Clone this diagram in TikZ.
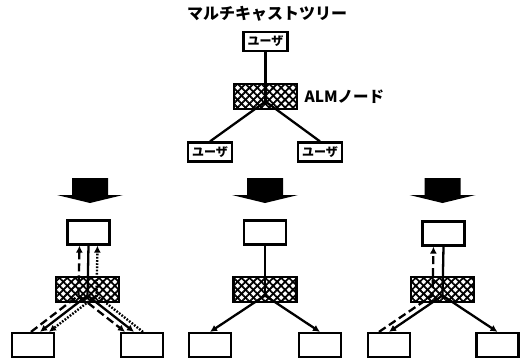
\documentclass[tikz,border=0pt]{standalone}
\usepackage{fontspec}
\setmainfont{Noto Sans CJK JP}
\usetikzlibrary{calc,patterns.meta,arrows.meta}
\begin{document}
\begin{tikzpicture}[x=1pt,y=-1pt,
  userbox/.style={draw, line width=2.2pt, fill=white, inner sep=0pt, minimum width=44pt, minimum height=19pt, font=\bfseries\fontsize{12}{12}\selectfont},
  pbox/.style={draw, line width=2.2pt, fill=white, inner sep=0pt, minimum width=42pt, minimum height=24pt},
  almbox/.style={draw, line width=2.5pt, inner sep=0pt, minimum width=63pt, minimum height=25pt,
     pattern={Lines[angle=45,distance=5.6pt,line width=1.8pt]},
     postaction={pattern={Lines[angle=-45,distance=5.6pt,line width=1.8pt]}}},
  conn/.style={line width=2.3pt},
  arrowend/.style={-{Latex[length=7pt,width=7pt]}},
  dashline/.style={line width=2.3pt, dash pattern=on 8pt off 4pt},
  dotline/.style={line width=2.4pt, dash pattern=on 1.7pt off 1.5pt},
  bigarr/.pic={\fill (-18,0) -- (18,0) -- (18,17) -- (33,17) -- (0,25) -- (-33,17) -- (-18,17) -- cycle;}]
\useasboundingbox (0,0) rectangle (524,361);

% ---------- top tree ----------
\node[font=\bfseries\fontsize{16}{16}\selectfont] (title) at (267,14) {マルチキャストツリー};
\node[almbox] (tA) at (265.5,96.5) {};
\node[anchor=west, font=\bfseries\fontsize{15.5}{15.5}\selectfont] (almlabel) at (301,97) {ALMノード};
\coordinate (tJ) at ($(tA.center)+(0,5)$);
\node[userbox] (t0) at (265.5,41.5) {ユーザ};
\node[userbox] (tL) at (210,152) {ユーザ};
\node[userbox] (tR) at (320,152) {ユーザ};
\draw[conn] (t0.south) -- (tJ);
\draw[conn] (tJ) -- (tL.north);
\draw[conn] (tJ) -- (tR.north);

% ---------- big arrows ----------
\pic at (90,178) {bigarr};
\pic at (265,178) {bigarr};
\pic at (442.5,178) {bigarr};

% ---------- left panel ----------
\node[almbox] (lA) at (87.5,289.5) {};
\node[pbox] (lT) at (88.5,232.5) {};
\node[pbox] (lL) at (33,345) {};
\node[pbox] (lR) at (142,345) {};
\coordinate (lJ) at ($(lA.center)+(0,6)$);
\coordinate (lLe) at ($(lL.north)+(7,0)$);
\coordinate (lRe) at ($(lR.north)+(-8,0)$);
\draw[conn] (lT.south) -- (lJ);
\draw[conn,arrowend] (lJ) -- (lLe);
\draw[conn,arrowend] (lJ) -- (lRe);
% dashed flow (from left user)
\draw[dashline,arrowend] ($(lLe)+(-9,0)$) -- ($(lJ)+(-9,0)$) -- ($(lT.south)+(-9,0)$);
\draw[dashline,arrowend] ($(lJ)+(-9,0)$) -- ($(lRe)+(-9,0)$);
% dotted flow (from right user)
\draw[dotline,arrowend] ($(lRe)+(9,0)$) -- ($(lJ)+(9,0)$) -- ($(lT.south)+(9,0)$);
\draw[dotline,arrowend] ($(lJ)+(9,0)$) -- ($(lLe)+(9,0)$);

% ---------- middle panel ----------
\node[almbox] (mA) at (265,289.5) {};
\node[pbox] (mT) at (265,232.5) {};
\node[pbox] (mL) at (210,345) {};
\node[pbox] (mR) at (320,345) {};
\coordinate (mJ) at ($(mA.center)+(0,6)$);
\draw[conn] (mT.south) -- (mJ);
\draw[conn,arrowend] (mJ) -- (mL.north);
\draw[conn,arrowend] (mJ) -- (mR.north);

% ---------- right panel ----------
\node[almbox] (rA) at (442.5,289.5) {};
\node[pbox] (rT) at (443.5,233.5) {};
\node[pbox] (rL) at (389,345) {};
\node[pbox] (rR) at (497.5,345) {};
\coordinate (rJ) at ($(rA.center)+(0,6)$);
\draw[conn] (rT.south) -- (rJ);
\draw[conn,arrowend] (rJ) -- (rL.north);
\draw[conn,arrowend] (rJ) -- (rR.north);
\draw[dashline,arrowend] ($(rL.north)+(-10,0)$) -- ($(rJ)+(-10,0)$) -- ($(rT.south)+(-10,0)$);
\end{tikzpicture}
\end{document}
